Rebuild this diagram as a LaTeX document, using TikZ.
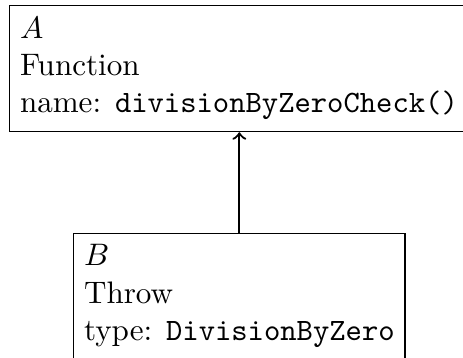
\documentclass[tikz,border=0pt]{standalone}
\begin{document}
\begin{tikzpicture}[
  x=1pt, y=1pt,
  entity/.style={draw, align=left, anchor=north west, inner ysep=3.7pt},
  link/.style={->, line width=0.7pt}
]
% fixed frame of the picture
\useasboundingbox (0,0) rectangle (148.9,-115.1);

\node[entity, minimum width=145.6pt] (A) at (2.9,-1.6)
  {$A$\\Function\\name: \texttt{divisionByZeroCheck()}};
\node[entity] (B) at (23.5,-74.8)
  {$B$\\Throw\\type: \texttt{DivisionByZero}};

\draw[link] (B.north) -- (B.north |- A.south);
\end{tikzpicture}
\end{document}
